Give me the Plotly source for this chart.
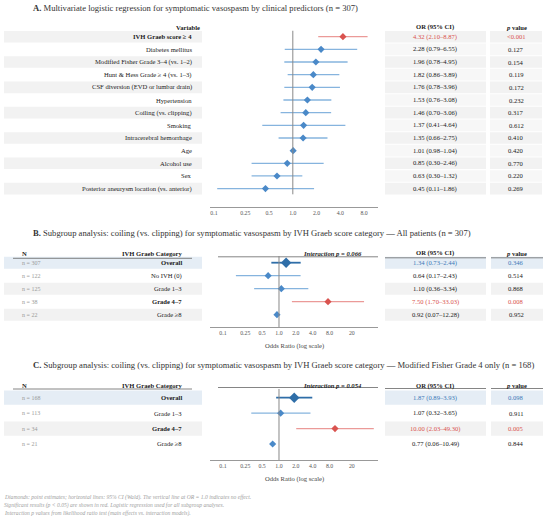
import plotly.graph_objects as go

W, H = 550, 520
FONT = "Liberation Serif"

# ---------------- data ----------------
A_VARS = [
    "IVH Graeb score ≥ 4",
    "Diabetes mellitus",
    "Modified Fisher Grade 3–4 (vs. 1–2)",
    "Hunt & Hess Grade ≥ 4 (vs. 1–3)",
    "CSF diversion (EVD or lumbar drain)",
    "Hypertension",
    "Coiling (vs. clipping)",
    "Smoking",
    "Intracerebral hemorrhage",
    "Age",
    "Alcohol use",
    "Sex",
    "Posterior aneurysm location (vs. anterior)",
]
A_OR = [4.32, 2.28, 1.96, 1.82, 1.76, 1.53, 1.46, 1.37, 1.35, 1.01, 0.85, 0.63, 0.45]
A_LO = [2.10, 0.79, 0.78, 0.86, 0.78, 0.76, 0.70, 0.41, 0.66, 0.98, 0.30, 0.30, 0.11]
A_HI = [8.87, 6.55, 4.95, 3.89, 3.96, 3.08, 3.06, 4.64, 2.75, 1.04, 2.46, 1.32, 1.86]
A_P = ["<0.001", "0.127", "0.154", "0.119", "0.172", "0.232", "0.317",
       "0.612", "0.410", "0.420", "0.770", "0.220", "0.269"]

B_CATS = ["Overall", "No IVH (0)", "Grade 1–3", "Grade 4–7", "Grade ≥8"]
B_N = [307, 122, 125, 38, 22]
B_OR = [1.34, 0.64, 1.10, 7.50, 0.92]
B_LO = [0.73, 0.17, 0.36, 1.70, 0.07]
B_HI = [2.44, 2.43, 3.34, 33.03, 12.28]
B_P = ["0.346", "0.514", "0.868", "0.008", "0.952"]
B_INTERACTION = "0.066"

C_CATS = ["Overall", "Grade 1–3", "Grade 4–7", "Grade ≥8"]
C_N = [168, 113, 34, 21]
C_OR = [1.87, 1.07, 10.00, 0.77]
C_LO = [0.89, 0.32, 2.03, 0.06]
C_HI = [3.93, 3.65, 49.30, 10.49]
C_P = ["0.098", "0.911", "0.005", "0.844"]
C_INTERACTION = "0.054"

A_TICKS = [0.1, 0.25, 0.5, 1, 2, 4, 8]
A_TICK_TEXT = ["0.1", "0.25", "0.5", "1.0", "2.0", "4.0", "8.0"]
BC_TICKS = [0.1, 0.25, 0.5, 1, 2, 4, 8, 20]
BC_TICK_TEXT = ["0.1", "0.25", "0.5", "1.0", "2.0", "4.0", "8.0", "20"]

TITLE_A = "<b>A.</b> Multivariate logistic regression for symptomatic vasospasm by clinical predictors (n = 307)"
TITLE_B = ("<b>B.</b> Subgroup analysis: coiling (vs. clipping) for symptomatic vasospasm "
           "by IVH Graeb score category — All patients (n = 307)")
TITLE_C = ("<b>C.</b> Subgroup analysis: coiling (vs. clipping) for symptomatic vasospasm "
           "by IVH Graeb score category — Modified Fisher Grade 4 only (n = 168)")
FOOTNOTES = [
    "Diamonds: point estimates; horizontal lines: 95% CI (Wald). The vertical line at OR = 1.0 indicates no effect.",
    "Significant results (p < 0.05) are shown in red. Logistic regression used for all subgroup analyses.",
    "Interaction p values from likelihood ratio test (main effects vs. interaction models).",
]

# ---------------- style ----------------
BLUE = "#4a89c8"
BLUE_CI = "#86b4de"
DARK_BLUE = "#2f6ea8"
RED = "#d9534f"
RED_CI = "#eb9a98"
GREY_BAND = "#f2f2f2"
BLUE_BAND = "#e5edf5"
TXT = "#222222"
CELL = 6.6          # table text size
CI_MAX_RATIO = 100  # very wide intervals are not drawn


def px(x):
    return x / W


def py(y):
    return 1 - y / H


def pval(s):
    return float(s.lstrip("<"))


fig = go.Figure()
shapes, annos = [], []


def text(x, y, s, yref="paper", size=CELL, color=TXT, anchor="center", **kw):
    annos.append(dict(x=x, y=y, xref="paper", yref=yref, text=s, showarrow=False,
                      xanchor=anchor, yanchor="middle", borderpad=0,
                      font=dict(family=FONT, size=size, color=color), **kw))


def band(x0, x1, i, yref, color, h=0.46):
    shapes.append(dict(type="rect", xref="paper", yref=yref, x0=px(x0), x1=px(x1),
                       y0=i - h, y1=i + h, fillcolor=color, line=dict(width=0), layer="below"))


def hline(x0, x1, y, color="#666666", width=0.8):
    shapes.append(dict(type="line", xref="paper", yref="paper", x0=px(x0), x1=px(x1),
                       y0=py(y), y1=py(y), line=dict(color=color, width=width)))


sig_rows = {
    1: [pval(p) < 0.05 for p in A_P],
    2: [pval(p) < 0.05 for p in B_P],
    3: [pval(p) < 0.05 for p in C_P],
}


def forest(ax, ors, los, his, overall_first):
    xa = "x" if ax == 1 else f"x{ax}"
    ya = "y" if ax == 1 else f"y{ax}"
    for i, (o, lo, hi) in enumerate(zip(ors, los, his)):
        if overall_first and i == 0:
            mc, lc, ms, lw = DARK_BLUE, DARK_BLUE, 8, 1.8
        elif sig_rows[ax][i]:
            mc, lc, ms, lw = RED, RED_CI, 5.5, 1.3
        else:
            mc, lc, ms, lw = BLUE, BLUE_CI, 5.5, 1.3
        if hi / lo < CI_MAX_RATIO:
            fig.add_trace(go.Scatter(x=[lo, hi], y=[i, i], mode="lines", xaxis=xa, yaxis=ya,
                                     line=dict(color=lc, width=lw), hoverinfo="skip"))
        fig.add_trace(go.Scatter(x=[o], y=[i], mode="markers", xaxis=xa, yaxis=ya,
                                 marker=dict(symbol="diamond", size=ms, color=mc),
                                 hovertemplate=f"OR {o:.2f} ({lo:.2f}–{hi:.2f})<extra></extra>"))


# ---------------- panel geometry (pixels) ----------------
# top px, bottom px, first row px, row step px
GEOM = {
    1: (28.0, 206.7, 36.7, 12.66),
    2: (256.0, 327.0, 262.7, 13.0),
    3: (389.0, 460.0, 397.7, 15.43),
}
XRANGE = {1: [-1.05, 1.08], 2: [-1.232, 1.768], 3: [-1.232, 1.768]}


def yrange(ax):
    top, bot, r0, step = GEOM[ax]
    return [(bot - r0) / step, (top - r0) / step]


# ---------------- panel A ----------------
text(px(32), py(8), TITLE_A, size=8.6, color="#333333", anchor="left")
text(px(201), py(27.3), "<b>Variable</b>", anchor="right")
text(px(435), py(27.3), "<b>OR (95% CI)</b>")
text(px(516), py(27.3), "<b><i>p</i> value</b>")
for i, (v, o, lo, hi, p) in enumerate(zip(A_VARS, A_OR, A_LO, A_HI, A_P)):
    sig = sig_rows[1][i]
    if i % 2 == 0:
        band(4, 202, i, "y", GREY_BAND)
    band(385, 486, i, "y", GREY_BAND if i % 2 == 0 else "#f7f7f7")
    band(490, 542, i, "y", GREY_BAND if i % 2 == 0 else "#f7f7f7")
    text(px(193), i, f"<b>{v}</b>" if sig else v, yref="y", anchor="right")
    c = RED if sig else TXT
    text(px(435), i, f"{o:.2f} ({lo:.2f}–{hi:.2f})", yref="y", color=c)
    text(px(516), i, p, yref="y", color=c)
forest(1, A_OR, A_LO, A_HI, overall_first=False)
shapes.append(dict(type="line", xref="x", yref="y", x0=1, x1=1, y0=-0.47, y1=12.45,
                   line=dict(color="#888888", width=1)))


# ---------------- panels B, C ----------------
def subgroup(ax, title, title_y, head_y, line_y, cats, ns, ors, los, his, ps, inter):
    yref = f"y{ax}"
    text(px(32), py(title_y), title, size=8.6, color="#333333", anchor="left")
    text(px(21), py(head_y), "<b>N</b>", anchor="left")
    text(px(183), py(head_y), "<b>IVH Graeb Category</b>", anchor="right")
    text(px(363), py(head_y), f"<b><i>Interaction p = {inter}</i></b>", anchor="right")
    text(px(435), py(head_y), "<b>OR (95% CI)</b>")
    text(px(516), py(head_y), "<b><i>p</i> value</b>")
    hline(13, 192, line_y)
    hline(218, 378, line_y - 1.5)
    hline(385, 486, line_y - 0.5)
    hline(491, 543, line_y - 0.5)
    for i, (cat, n, o, lo, hi, p) in enumerate(zip(cats, ns, ors, los, his, ps)):
        sig = sig_rows[ax][i]
        col = BLUE_BAND if i == 0 else (GREY_BAND if i % 2 == 0 else None)
        if col:
            for x0, x1 in [(4, 202), (385, 486), (491, 543)]:
                band(x0, x1, i, yref, col)
        text(px(21), i, f"n = {n}", yref=yref, color="#9a9a9a", size=6, anchor="left")
        text(px(183), i, f"<b>{cat}</b>" if (i == 0 or sig) else cat, yref=yref, anchor="right")
        c = "#3d7ab8" if i == 0 else (RED if sig else TXT)
        text(px(435), i, f"{o:.2f} ({lo:.2f}–{hi:.2f})", yref=yref, color=c)
        text(px(516), i, p, yref=yref, color=c)
    forest(ax, ors, los, his, overall_first=True)
    top_i, bot_i = yrange(ax)[1], yrange(ax)[0]
    shapes.append(dict(type="line", xref=f"x{ax}", yref=yref, x0=1, x1=1, y0=top_i, y1=bot_i,
                       line=dict(color="#888888", width=1)))
    bottom_px = GEOM[ax][1]
    text(px(294), py(bottom_px + 18.5), "Odds Ratio (log scale)", size=6.6, color="#444444")


subgroup(2, TITLE_B, 233.3, 253.3, 258.3, B_CATS, B_N, B_OR, B_LO, B_HI, B_P, B_INTERACTION)
subgroup(3, TITLE_C, 365.0, 385.7, 389.0, C_CATS, C_N, C_OR, C_LO, C_HI, C_P, C_INTERACTION)

for k, line in enumerate(FOOTNOTES):
    text(px(3), py(497.3 + 8 * k), f"<i>{line}</i>", size=5.6, color="#a0a0a0", anchor="left")

# ---------------- axes ----------------
layout = dict(
    width=W, height=H, margin=dict(l=0, r=0, t=0, b=0),
    paper_bgcolor="white", plot_bgcolor="rgba(0,0,0,0)",
    showlegend=False, shapes=shapes, annotations=annos,
    font=dict(family=FONT, size=6, color=TXT),
)
for ax in (1, 2, 3):
    top, bot, _, _ = GEOM[ax]
    suf = "" if ax == 1 else str(ax)
    ticks, labels = (A_TICKS, A_TICK_TEXT) if ax == 1 else (BC_TICKS, BC_TICK_TEXT)
    layout[f"xaxis{suf}"] = dict(
        type="log", range=XRANGE[ax], domain=[px(210), px(378)], anchor=f"y{suf}",
        tickvals=ticks, ticktext=labels, ticks="", showgrid=False, zeroline=False,
        showline=True, linecolor="#999999", linewidth=1,
        tickfont=dict(family=FONT, size=5.8, color="#555555"), fixedrange=True,
    )
    layout[f"yaxis{suf}"] = dict(
        range=yrange(ax), domain=[py(bot), py(top)], anchor=f"x{suf}",
        visible=False, showgrid=False, zeroline=False, fixedrange=True,
    )
fig.update_layout(**layout)

# page body has a default 8px margin; drop it so the figure sits at the window origin
fig.write_html("out.html", config={"displayModeBar": False},
               post_script="document.body.style.margin='0';")
